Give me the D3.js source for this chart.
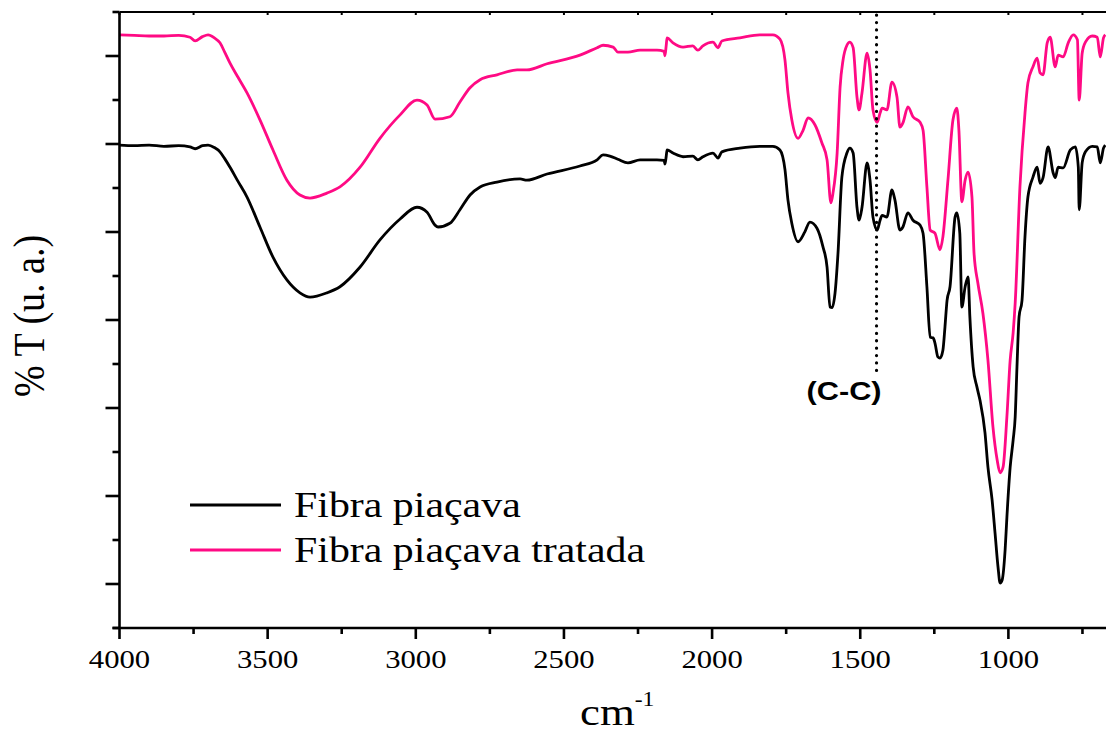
<!DOCTYPE html>
<html><head><meta charset="utf-8">
<script src="https://cdn.jsdelivr.net/npm/d3@7"></script>
<style>html,body{margin:0;padding:0;background:#fff;overflow:hidden}</style>
</head><body>
<svg id="chart" width="1106" height="733"></svg>
<script>
// ---- data (wavenumber cm-1, transmittance in arbitrary units) ----
const seriesNames = ["Fibra piaçava", "Fibra piaçava tratada"];
const seriesColors = ["#000000", "#ff0a84"];
const xTickLabels = [4000, 3500, 3000, 2500, 2000, 1500, 1000];
const annotationWn = 1445;
const annotationLabel = "(C-C)";

const fibraPiacava = [[4000,78.4],[3950,78.3],[3900,78.4],[3850,78.2],[3800,78.3],[3762,78.1],[3745,77.8],[3720,78.3],[3701,78.4],[3680,78.0],[3661,77.3],[3645,76.2],[3627,74.8],[3600,72.5],[3570,70.0],[3526,65.1],[3482,60.2],[3435,56.5],[3391,54.4],[3357,53.7],[3300,54.4],[3256,55.4],[3188,58.6],[3121,63.0],[3053,66.4],[2996,68.3],[2962,67.5],[2935,65.4],[2925,65.1],[2885,65.7],[2851,67.9],[2817,70.3],[2783,71.6],[2726,72.4],[2648,72.9],[2625,72.7],[2557,73.7],[2446,75.0],[2388,76.0],[2368,76.8],[2345,76.6],[2318,76.1],[2284,75.5],[2243,76.0],[2186,76.0],[2162,75.9],[2159,75.3],[2155,76.5],[2152,77.6],[2132,77.1],[2098,76.5],[2065,76.6],[2048,76.0],[2031,76.5],[1997,77.1],[1980,76.3],[1967,77.3],[1906,77.9],[1839,78.2],[1795,78.2],[1771,77.6],[1754,74.4],[1744,69.5],[1731,65.7],[1710,62.7],[1687,64.3],[1670,65.9],[1646,64.9],[1626,61.9],[1612,58.6],[1602,52.1],[1595,52.0],[1585,54.4],[1575,60.9],[1562,73.2],[1545,77.1],[1535,77.9],[1524,77.1],[1511,68.3],[1504,66.2],[1494,68.3],[1477,75.5],[1467,72.7],[1457,66.7],[1443,64.6],[1433,66.2],[1426,67.0],[1410,66.7],[1393,71.1],[1383,69.5],[1366,64.6],[1356,65.1],[1339,67.4],[1322,66.2],[1298,65.4],[1288,64.1],[1275,55.4],[1264,47.2],[1254,47.1],[1248,46.3],[1238,44.0],[1231,43.8],[1221,45.1],[1214,48.9],[1207,53.2],[1197,55.4],[1180,66.7],[1174,67.4],[1164,64.1],[1157,52.1],[1146,55.4],[1136,57.0],[1130,50.5],[1119,42.4],[1106,39.1],[1096,37.0],[1079,31.7],[1069,26.1],[1055,20.8],[1045,15.4],[1035,9.9],[1028,7.3],[1021,7.8],[1011,12.7],[1005,18.0],[994,26.1],[984,30.5],[977,34.3],[971,42.4],[964,50.5],[954,53.2],[944,63.5],[934,70.0],[917,73.2],[903,74.8],[893,72.2],[883,73.1],[866,78.1],[849,73.9],[842,73.1],[832,74.8],[815,74.7],[791,77.6],[774,78.1],[764,74.8],[761,67.9],[751,75.5],[740,77.3],[717,78.2],[700,78.1],[690,75.5],[679,77.9],[673,78.4]];

const fibraTratada = [[4000,96.3],[3950,96.2],[3900,96.1],[3850,96.1],[3800,96.2],[3762,95.9],[3745,95.3],[3720,96.0],[3701,96.3],[3680,95.8],[3661,95.0],[3645,93.5],[3627,91.7],[3600,89.4],[3570,86.9],[3526,82.5],[3482,77.6],[3435,72.7],[3391,70.3],[3357,69.8],[3300,70.6],[3256,71.6],[3188,74.8],[3121,79.5],[3053,83.3],[2996,85.7],[2962,84.9],[2935,82.6],[2885,83.0],[2851,85.4],[2817,87.7],[2783,89.0],[2726,89.8],[2658,90.6],[2625,90.6],[2557,91.6],[2446,93.0],[2388,94.2],[2368,94.6],[2334,94.3],[2318,93.5],[2284,93.5],[2243,93.8],[2186,93.8],[2162,93.6],[2159,92.9],[2155,94.5],[2152,95.8],[2132,95.0],[2098,94.3],[2065,94.5],[2048,93.8],[2031,94.5],[1997,95.1],[1980,94.2],[1967,95.3],[1906,95.8],[1839,96.3],[1795,96.3],[1771,95.6],[1754,92.2],[1744,86.9],[1731,82.5],[1710,79.5],[1693,80.8],[1676,82.8],[1653,81.7],[1629,78.7],[1612,76.0],[1599,69.0],[1592,70.6],[1578,77.1],[1568,87.8],[1558,92.2],[1545,94.6],[1535,95.1],[1524,94.2],[1511,86.2],[1504,84.1],[1494,86.9],[1477,93.3],[1467,90.6],[1457,84.1],[1443,82.1],[1433,83.6],[1426,84.4],[1410,84.1],[1393,88.6],[1376,86.2],[1366,81.3],[1356,82.0],[1339,84.6],[1322,83.0],[1298,82.1],[1288,80.8],[1275,71.6],[1264,64.6],[1248,64.1],[1231,61.4],[1221,63.5],[1204,72.7],[1187,82.5],[1174,84.4],[1167,80.8],[1157,69.2],[1146,72.7],[1136,74.0],[1123,70.0],[1116,60.9],[1103,56.0],[1086,51.1],[1069,43.5],[1052,32.6],[1038,27.3],[1028,25.2],[1018,26.1],[1005,34.3],[994,43.5],[984,47.9],[977,52.8],[961,71.6],[944,83.6],[934,88.5],[917,91.1],[903,92.5],[893,90.1],[883,89.8],[869,95.0],[859,95.9],[842,91.1],[832,93.0],[815,92.7],[798,95.0],[781,96.3],[767,95.5],[761,85.7],[751,93.3],[740,95.1],[717,96.1],[700,95.9],[690,92.7],[679,95.8],[673,96.3]];

(function draw() {
const svg = d3.select("#chart");
svg.append("rect").attr("width",1106).attr("height",733).attr("fill","#fff");
const L = 119.5, T = 12, B = 628;
const x = d3.scaleLinear().domain([4000, 400]).range([L, L + 3600/3.375]);
const y = d3.scaleLinear().domain([0, 100]).range([B, T]);
const serif = "'Liberation Serif','Times New Roman',serif";
const SX = 1.18;

function stretchedText(g, tx, ty, str, size, anchor, opts={}) {
  return g.append("text")
    .attr("transform", `translate(${tx},${ty}) scale(${SX},1)` + (opts.rotate ? ` rotate(${opts.rotate})` : ""))
    .attr("font-family", opts.family || serif)
    .attr("font-size", size)
    .attr("font-weight", opts.weight || "normal")
    .attr("text-anchor", anchor)
    .attr("fill", "#000")
    .text(str);
}

svg.append("clipPath").attr("id","plotclip").append("rect")
  .attr("x", L).attr("y", T).attr("width", 1106 - L).attr("height", B - T);

const line = d3.line().x(d => x(d[0])).y(d => y(d[1])).curve(d3.curveMonotoneX);
const plot = svg.append("g").attr("clip-path","url(#plotclip)");
[fibraPiacava, fibraTratada].forEach((s, i) => {
  plot.append("path").datum(s).attr("d", line)
    .attr("fill","none").attr("stroke", seriesColors[i])
    .attr("stroke-width", 2.8).attr("stroke-linejoin","round");
});

svg.append("line")
  .attr("x1", x(annotationWn)).attr("x2", x(annotationWn))
  .attr("y1", y(99.5)).attr("y2", y(40.8))
  .attr("stroke","#000").attr("stroke-width",3.2)
  .attr("stroke-linecap","round").attr("stroke-dasharray","0.1,7.3");
stretchedText(svg, x(annotationWn) + 5, 400, annotationLabel, 26, "end",
  {family:"'Liberation Sans',Arial,sans-serif", weight:"bold"});

const axW = 2.6;
const yTicks = d3.range(0, 15).map(i => i * 100 / 14);
const yAxis = svg.append("g").attr("transform", `translate(${L},0)`);
yAxis.append("line").attr("x1",0).attr("x2",0).attr("y1",T).attr("y2",B)
  .attr("stroke","#000").attr("stroke-width",axW);
yAxis.selectAll("line.t").data(yTicks).join("line").attr("class","t")
  .attr("x1", (d,i) => i % 2 === 1 ? -14 : -7).attr("x2", 0)
  .attr("y1", d => y(d)).attr("y2", d => y(d))
  .attr("stroke","#000").attr("stroke-width",axW);

const xMajor = d3.range(4000, 399, -500);
const xMinor = d3.range(3750, 399, -500);
const xAxis = svg.append("g").attr("transform", `translate(0,${B})`);
xAxis.append("line").attr("x1", L - 7).attr("x2", 1106).attr("y1",0).attr("y2",0)
  .attr("stroke","#000").attr("stroke-width",axW);
xAxis.selectAll("line.M").data(xMajor).join("line").attr("class","M")
  .attr("x1", d => x(d)).attr("x2", d => x(d)).attr("y1",0).attr("y2",11)
  .attr("stroke","#000").attr("stroke-width",axW);
xAxis.selectAll("line.m").data(xMinor).join("line").attr("class","m")
  .attr("x1", d => x(d)).attr("x2", d => x(d)).attr("y1",0).attr("y2",6)
  .attr("stroke","#000").attr("stroke-width",axW);
xTickLabels.forEach(v => stretchedText(svg, x(v), 668, String(v), 26, "middle"));

const topAxis = svg.append("g").attr("transform", `translate(0,${T})`);
topAxis.append("line").attr("x1", L).attr("x2", 1106).attr("y1",0).attr("y2",0)
  .attr("stroke","#000").attr("stroke-width",2);
topAxis.selectAll("line.t").data(xMajor.concat(xMinor)).join("line").attr("class","t")
  .attr("x1", d => x(d)).attr("x2", d => x(d)).attr("y1",0).attr("y2",3)
  .attr("stroke","#000").attr("stroke-width",2);

const xt = stretchedText(svg, 580, 725, "", 38, "start");
xt.append("tspan").text("cm");
xt.append("tspan").attr("font-size", 20).attr("dy", -19).text("-1");
stretchedText(svg, 44, 316, "% T (u. a.)", 38, "middle", {rotate:-90});

seriesNames.forEach((name, i) => {
  const ly = 505 + i * 45;
  svg.append("line").attr("x1",190).attr("x2",281).attr("y1",ly).attr("y2",ly)
    .attr("stroke", seriesColors[i]).attr("stroke-width",3);
  stretchedText(svg, 294, ly + 12, name, 35.5, "start");
});
})();
</script>
</body></html>
